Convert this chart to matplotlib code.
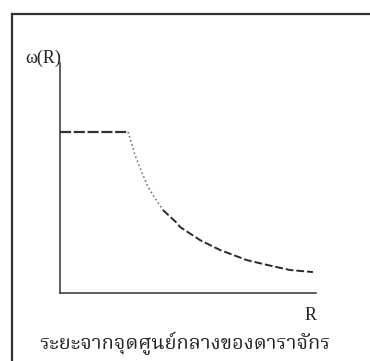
import matplotlib
matplotlib.use("Agg")
import matplotlib.pyplot as plt
from matplotlib.lines import Line2D

# flat inner part of the rotation curve
r_flat = [0.0, 2.66]
w_flat = [7.0, 7.0]

# falling part
r_fall = [2.66, 2.73, 2.93, 3.13, 3.40, 3.63, 4.02, 4.57, 4.69, 5.47,
          6.25, 7.30, 8.09, 8.98, 9.88]
w_fall = [7.0, 6.74, 6.00, 5.43, 4.70, 4.26, 3.61, 3.04, 2.87, 2.30,
          1.87, 1.43, 1.22, 1.00, 0.91]

y_label = "ω(R)"
x_label = "R"
caption = "ระยะจากจุดศูนย์กลางของดาราจักร"

fig = plt.figure(figsize=(3.7, 3.61), dpi=100)
W, H = 370, 361

# axes box: x from px 60 to 316, y from px 63 to 293
ax = fig.add_axes([60 / W, 1 - 293 / H, 256 / W, 230 / H])
ax.set_xlim(0, 10)
ax.set_ylim(0, 10)
for s in ["top", "right"]:
    ax.spines[s].set_visible(False)
for s in ["left", "bottom"]:
    ax.spines[s].set_color("#333333")
    ax.spines[s].set_linewidth(1.1)
ax.set_xticks([])
ax.set_yticks([])
ax.patch.set_alpha(0)

ax.plot(r_flat, w_flat, color="#333333", lw=1.6, dashes=(5, 1.2))
ax.plot(r_fall[:7], w_fall[:7], color="#666666", lw=1.1, dashes=(1, 1.8))
ax.plot(r_fall[6:], w_fall[6:], color="#2a2a2a", lw=1.4, dashes=(4, 1.5))

# labels
fig.text(25 / W, 1 - 58 / H, y_label, family="Liberation Serif", fontsize=13,
         va="center", ha="left", color="#222222")
fig.text(311 / W, 1 - 315 / H, x_label, family="Liberation Serif", fontsize=13,
         va="center", ha="center", color="#222222")
fig.text(185 / W, 1 - 343 / H, caption,
         family=["Noto Serif Thai", "DejaVu Sans"], fontsize=14.5,
         va="center", ha="center", color="#222222")

# scanned frame: top and left border
fig.add_artist(Line2D([12 / W, 1.0], [1 - 14 / H, 1 - 14 / H],
                      transform=fig.transFigure, color="#333333", lw=1.6))
fig.add_artist(Line2D([12 / W, 12 / W], [0.0, 1 - 14 / H],
                      transform=fig.transFigure, color="#333333", lw=1.6))

fig.savefig("out.png", dpi=100)
